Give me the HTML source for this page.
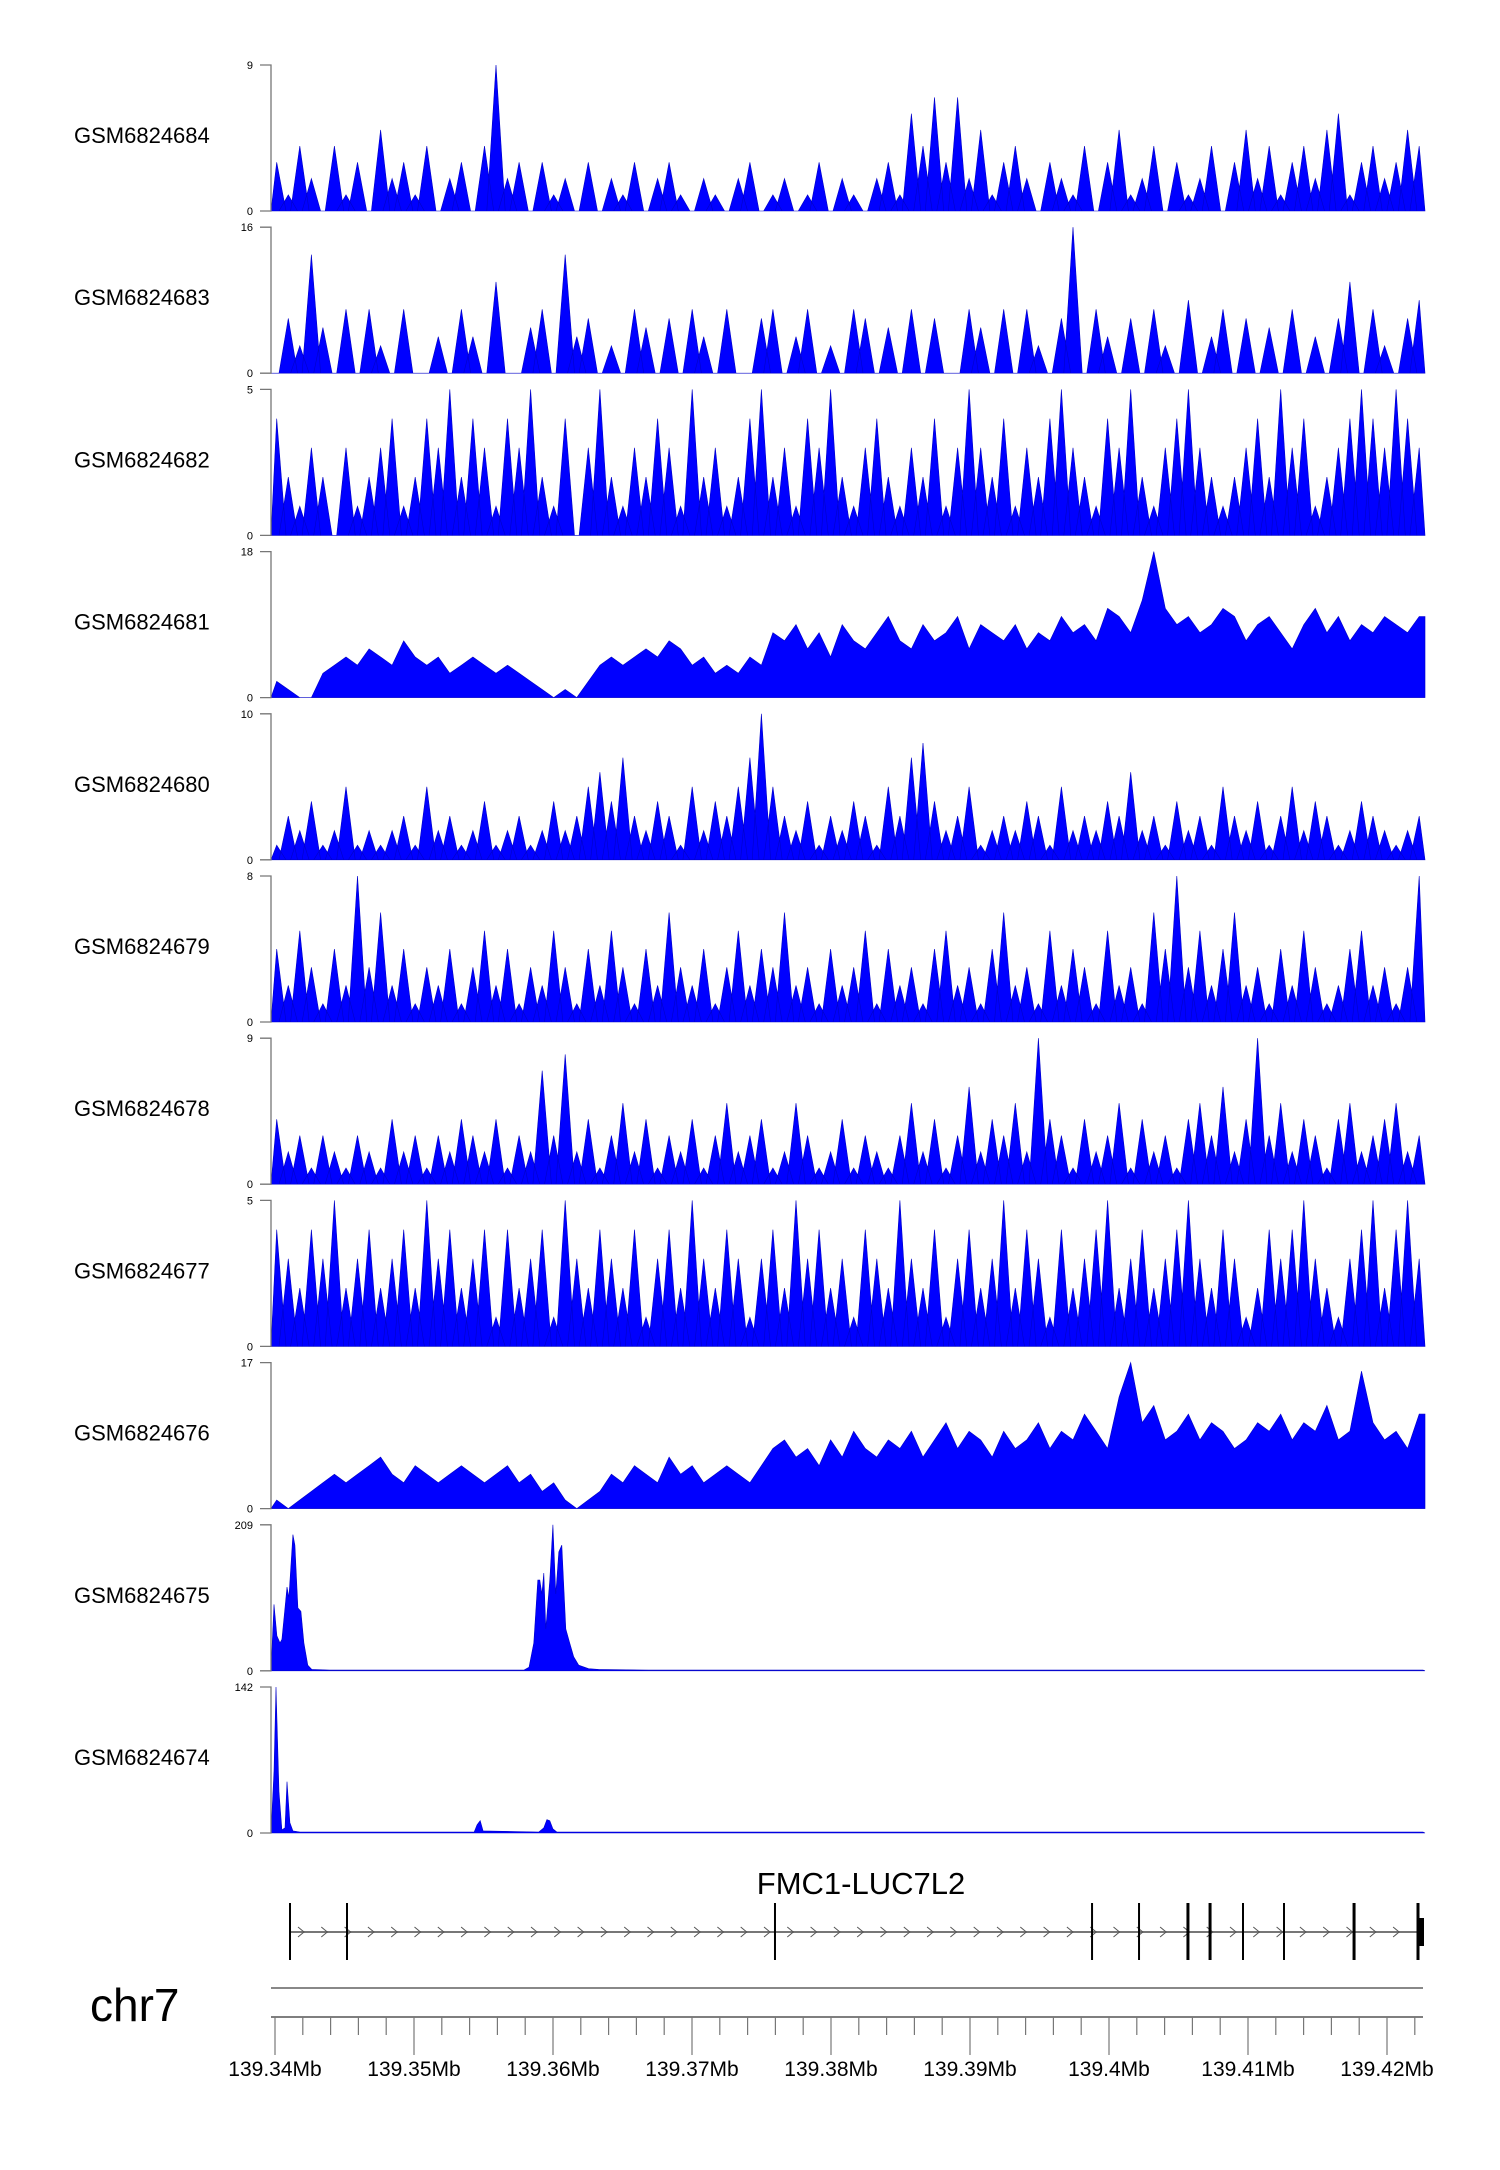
<!DOCTYPE html>
<html><head><meta charset="utf-8"><style>
html,body{margin:0;padding:0;background:#fff;}
svg{display:block;font-family:"Liberation Sans",sans-serif;}
</style></head><body>
<svg id="chart" width="1500" height="2170" viewBox="0 0 1500 2170" xmlns="http://www.w3.org/2000/svg">
<g id="tracks"></g>
<g id="gene"></g>
<g id="axis"></g>
</svg>
<script>
// ---------- data ----------
const trackNames = ["GSM6824684","GSM6824683","GSM6824682","GSM6824681","GSM6824680","GSM6824679","GSM6824678","GSM6824677","GSM6824676","GSM6824675","GSM6824674"];
const trackMax = [9,16,5,18,10,8,9,5,17,209,142];
const spiky = [1,1,1,0,1,1,1,1,0];
const t684 = [3,1,4,2,0,4,1,3,0,5,2,3,1,4,0,2,3,0,4,9,2,3,0,3,1,2,0,3,0,2,1,3,0,2,3,1,0,2,1,0,2,3,0,1,2,0,1,3,0,2,1,0,2,3,1,6,4,7,3,7,2,5,1,3,4,2,0,3,2,1,4,0,3,5,1,2,4,0,3,1,2,4,0,3,5,2,4,1,3,4,2,5,6,1,3,4,2,3,5,4];
const t683 = [0,6,3,13,5,0,7,0,7,3,0,7,0,0,4,0,7,4,0,10,0,0,5,7,0,13,4,6,0,3,0,7,5,0,6,0,7,4,0,7,0,0,6,7,0,4,7,0,3,0,7,6,0,5,0,7,0,6,0,0,7,5,0,7,0,7,3,0,6,16,0,7,4,0,6,0,7,3,0,8,0,4,7,0,6,0,5,0,7,0,4,0,6,10,0,7,3,0,6,8];
const t682 = [4,2,1,3,2,0,3,1,2,3,4,1,2,4,3,5,2,4,3,1,4,3,5,2,1,4,0,3,5,2,1,3,2,4,3,1,5,2,3,1,2,4,5,2,3,1,4,3,5,2,1,3,4,2,1,3,2,4,1,3,5,3,2,4,1,3,2,4,5,3,2,1,4,3,5,2,1,3,4,5,3,2,1,2,3,4,2,5,3,4,1,2,3,4,5,4,3,5,4,3];
const t681 = [2,1,0,0,3,4,5,4,6,5,4,7,5,4,5,3,4,5,4,3,4,3,2,1,0,1,0,2,4,5,4,5,6,5,7,6,4,5,3,4,3,5,4,8,7,9,6,8,5,9,7,6,8,10,7,6,9,7,8,10,6,9,8,7,9,6,8,7,10,8,9,7,11,10,8,12,18,11,9,10,8,9,11,10,7,9,10,8,6,9,11,8,10,7,9,8,10,9,8,10];
const t680 = [1,3,2,4,1,2,5,1,2,1,2,3,1,5,2,3,1,2,4,1,2,3,1,2,4,2,3,5,6,4,7,3,2,4,3,1,5,2,4,3,5,7,10,5,3,2,4,1,3,2,4,3,1,5,3,7,8,4,2,3,5,1,2,3,2,4,3,1,5,2,3,2,4,3,6,2,3,1,4,2,3,1,5,3,2,4,1,3,5,2,4,3,1,2,4,3,2,1,2,3];
const t679 = [4,2,5,3,1,4,2,8,3,6,2,4,1,3,2,4,1,3,5,2,4,1,3,2,5,3,1,4,2,5,3,1,4,2,6,3,2,4,1,3,5,2,4,3,6,2,3,1,4,2,3,5,1,4,2,3,1,4,5,2,3,1,4,6,2,3,1,5,2,4,3,1,5,2,3,1,6,4,8,3,5,2,4,6,2,3,1,4,2,5,3,1,2,4,5,2,3,1,3,8];
const t678 = [4,2,3,1,3,2,1,3,2,1,4,2,3,1,3,2,4,3,2,4,1,3,2,7,3,8,2,4,1,3,5,2,4,1,3,2,4,1,3,5,2,3,4,1,2,5,3,1,2,4,1,3,2,1,3,5,2,4,1,3,6,2,4,3,5,2,9,4,3,1,4,2,3,5,1,4,2,3,1,4,5,3,6,2,4,9,3,5,2,4,3,1,4,5,2,3,4,5,2,3];
const t677 = [4,3,2,4,3,5,2,3,4,2,3,4,2,5,3,4,2,3,4,1,4,2,3,4,1,5,3,2,4,3,2,4,1,3,4,2,5,3,2,4,3,1,3,4,2,5,3,4,2,3,1,4,3,2,5,3,2,4,1,3,4,2,3,5,2,4,3,1,4,2,3,4,5,2,3,4,2,3,4,5,3,2,4,3,1,2,4,3,4,5,3,2,1,3,4,5,2,4,5,3];
const t676 = [1,0,1,2,3,4,3,4,5,6,4,3,5,4,3,4,5,4,3,4,5,3,4,2,3,1,0,1,2,4,3,5,4,3,6,4,5,3,4,5,4,3,5,7,8,6,7,5,8,6,9,7,6,8,7,9,6,8,10,7,9,8,6,9,7,8,10,7,9,8,11,9,7,13,17,10,12,8,9,11,8,10,9,7,8,10,9,11,8,10,9,12,8,9,16,10,8,9,7,11];
const t675pos = [-0.29,-0.07,0.14,0.36,0.50,0.72,0.86,1.00,1.29,1.43,1.65,1.86,2.08,2.36,2.65,3.94,17.9,18.27,18.62,18.91,19.05,19.2,19.34,19.48,19.77,19.99,20.2,20.42,20.63,20.92,21.2,21.49,21.85,22.56,23.28,26.86,82.59];
const t675val = [0,95,50,40,45,90,120,105,195,180,90,85,40,8,2,1,1,5,40,130,130,110,140,60,130,209,110,170,180,60,40,20,8,3,2,1,1];
const t674pos = [-0.29,-0.07,0.07,0.29,0.5,0.72,0.86,1.07,1.29,1.79,14.33,14.54,14.76,14.97,18.98,19.34,19.56,19.77,19.99,20.27,82.59];
const t674val = [0,60,142,40,3,5,50,10,2,1,1,8,12,2,1,5,13,12,4,1,1];
const denseTracks = [t684,t683,t682,t681,t680,t679,t678,t677,t676];
const exonKb = [1.08,5.18,35.97,58.78,62.16,65.68,67.27,69.64,72.59,77.63,82.23];
const exonThick = [0,0,0,0,0,1,1,0,0,1,1];
const tickLabels = ["139.34Mb","139.35Mb","139.36Mb","139.37Mb","139.38Mb","139.39Mb","139.4Mb","139.41Mb","139.42Mb"];
const domainKb = [-0.29, 82.73];

// ---------- scales ----------
const NS="http://www.w3.org/2000/svg";
const X0=271, X1=1425;
function xs(kb){return 275 + kb*13.9;}
const trackTop0=65, pitch=162.2, trackH=146;
function ys(i,v){const b=trackTop0+pitch*i+trackH; return b - v/trackMax[i]*trackH;}
function mk(tag,attrs,parent){const e=document.createElementNS(NS,tag);for(const k in attrs)e.setAttribute(k,attrs[k]);parent.appendChild(e);return e;}
function cx(x){return Math.max(X0,Math.min(X1,x));}

const tg=document.getElementById('tracks');
trackNames.forEach((name,i)=>{
  const top=trackTop0+pitch*i, bot=top+trackH;
  const g=mk('g',{},tg);
  
  
  const lab=mk('text',{x:74,y:top+trackH/2+5,'font-size':22,fill:'#000'},g);
  lab.textContent=name;
  
  
  let d='';
  if(i<9){
    const val=denseTracks[i]; const n=val.length;
    const bw=(domainKb[1]-domainKb[0])/n;
    if(spiky[i]){
      d='M'+X0+','+bot;
      val.forEach((v,j)=>{
        const c=domainKb[0]+(j+0.5)*bw;
        d+=' L'+cx(xs(c-bw*0.8)).toFixed(1)+','+bot+' L'+cx(xs(c)).toFixed(1)+','+ys(i,v).toFixed(1)+' L'+cx(xs(c+bw*0.8)).toFixed(1)+','+bot;
      });
      d+=' L'+X1+','+bot+' Z';
    } else {
      d='M'+X0+','+bot;
      val.forEach((v,j)=>{
        const c=domainKb[0]+(j+0.5)*bw;
        d+=' L'+cx(xs(c)).toFixed(1)+','+ys(i,v).toFixed(1);
      });
      d+=' L'+X1+','+ys(i,val[n-1]).toFixed(1)+' L'+X1+','+bot+' Z';
    }
  } else {
    const pos=i===9?t675pos:t674pos, val=i===9?t675val:t674val;
    d='M'+X0+','+bot;
    pos.forEach((p,j)=>{d+=' L'+cx(xs(p)).toFixed(1)+','+ys(i,val[j]).toFixed(1);});
    d+=' L'+X1+','+bot+' Z';
  }
  const area=mk('path',{d:d,fill:'#0000ff',stroke:'#0000c8','stroke-width':0.6,'fill-rule':'nonzero'},g);
  
  
  const ax=mk('path',{d:`M260,${top} H${X0} V${bot} H260`,fill:'none',stroke:'#777','stroke-width':1.3},g);
  
  
  const tmax=mk('text',{x:253,y:top+4,'font-size':11,'text-anchor':'end',fill:'#000'},g);
  tmax.textContent=String(trackMax[i]);
  
  
  const tmin=mk('text',{x:253,y:bot+4,'font-size':11,'text-anchor':'end',fill:'#000'},g);
  tmin.textContent='0';
  
  
});

const gg=document.getElementById('gene');
const gname=mk('text',{x:861,y:1894,'font-size':31,'text-anchor':'middle',fill:'#000'},gg);
gname.textContent='FMC1-LUC7L2';


const gx0=xs(exonKb[0]), gx1=xs(exonKb[exonKb.length-1]);
const gl=mk('line',{x1:gx0,y1:1932,x2:gx1,y2:1932,stroke:'#777','stroke-width':2},gg);


for(let x=gx0+8;x<gx1-4;x+=23.3){
  const c=mk('path',{d:`M${x.toFixed(1)},1927 L${(x+6).toFixed(1)},1932 L${x.toFixed(1)},1937`,fill:'none',stroke:'#555','stroke-width':1},gg);
  
  
}
exonKb.forEach((k,j)=>{
  const e=mk('line',{x1:xs(k),y1:1903,x2:xs(k),y2:1960,stroke:'#000','stroke-width':exonThick[j]?3:2},gg);
  
  
});
const endBlock=mk('rect',{x:xs(exonKb[10]),y:1918,width:6,height:28,fill:'#000'},gg);



const ag=document.getElementById('axis');
const chr=mk('text',{x:90,y:2021,'font-size':46,fill:'#000'},ag);
chr.textContent='chr7';


const cl=mk('line',{x1:X0,y1:1988,x2:1423,y2:1988,stroke:'#888','stroke-width':2},ag);


const al=mk('line',{x1:X0,y1:2017,x2:1423,y2:2017,stroke:'#555','stroke-width':1.5},ag);


for(let k=0;k<=82;k+=2){
  const x=xs(k); const major=(k%10===0);
  const t=mk('line',{x1:x,y1:2017,x2:x,y2:major?2055:2035,stroke:'#777','stroke-width':1.2},ag);
  
  
}
tickLabels.forEach((s,j)=>{
  const t=mk('text',{x:xs(j*10),y:2076,'font-size':21,'text-anchor':'middle',fill:'#000'},ag);
  t.textContent=s;
  
  
});
</script>
</body></html>
